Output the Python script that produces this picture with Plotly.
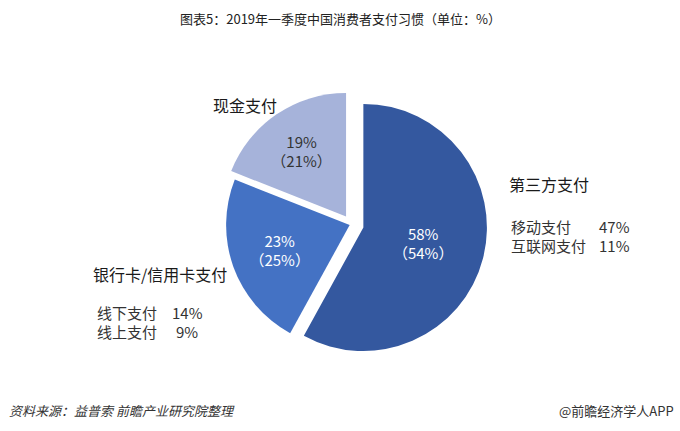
import plotly.graph_objects as go

# ---- data ----
categories = ["第三方支付", "银行卡/信用卡支付", "现金支付"]
values_2019q1 = [58, 23, 19]
values_prev = [54, 25, 21]
slice_colors = ["#34589F", "#4472C4", "#A6B3DA"]
text_colors = ["#FFFFFF", "#FFFFFF", "#333333"]
pulls = [0.10, 0.015, 0.077]

sub_labels = {
    "第三方支付": [("移动支付", "47%"), ("互联网支付", "11%")],
    "银行卡/信用卡支付": [("线下支付", "14%"), ("线上支付", "9%")],
}

W, H = 680, 431
FONT = "Noto Sans CJK SC, Microsoft YaHei, sans-serif"

def px(x):
    return x / W

def py(y):
    return 1 - y / H

inner_text = [f"{v}%<br>（{p}%）" for v, p in zip(values_2019q1, values_prev)]

fig = go.Figure(
    go.Pie(
        labels=categories,
        values=values_2019q1,
        text=inner_text,
        textinfo="text",
        textposition="inside",
        insidetextorientation="horizontal",
        textfont=dict(size=15, color=text_colors, family=FONT),
        marker=dict(colors=slice_colors, line=dict(width=0)),
        sort=False,
        direction="clockwise",
        rotation=0,
        pull=pulls,
        hoverinfo="label+percent",
        domain=dict(x=[px(215.5), px(487.3)], y=[py(360.3), py(88.5)]),
        showlegend=False,
    )
)

ann = []
# title
ann.append(dict(text="图表5：2019年一季度中国消费者支付习惯（单位：%）", x=0.5, y=py(18),
                xref="paper", yref="paper", xanchor="center", yanchor="middle",
                showarrow=False, font=dict(size=13, color="#222222", family=FONT)))
# headers
headers = {"现金支付": (211, 105), "第三方支付": (507, 184), "银行卡/信用卡支付": (91, 274)}
for name, (x, y) in headers.items():
    ann.append(dict(text=name, x=px(x), y=py(y), xref="paper", yref="paper",
                    xanchor="left", yanchor="middle", showarrow=False,
                    font=dict(size=16, color="#1a1a1a", family=FONT)))
# sub labels
sub_pos = {
    "第三方支付": [(509, 226, 632), (509, 245, 632)],
    "银行卡/信用卡支付": [(95, 312, 205), (95, 331, 200)],
}
for cat, items in sub_labels.items():
    for (lab, val), (x, y, xr) in zip(items, sub_pos[cat]):
        ann.append(dict(text=lab, x=px(x), y=py(y), xref="paper", yref="paper",
                        xanchor="left", yanchor="middle", showarrow=False,
                        font=dict(size=15, color="#333333", family=FONT)))
        ann.append(dict(text=val, x=px(xr), y=py(y), xref="paper", yref="paper",
                        xanchor="right", yanchor="middle", showarrow=False,
                        font=dict(size=15, color="#333333", family=FONT)))
# footer
ann.append(dict(text="<i>资料来源：益普索 前瞻产业研究院整理</i>", x=px(7), y=py(410),
                xref="paper", yref="paper", xanchor="left", yanchor="middle",
                showarrow=False, font=dict(size=13, color="#333333", family=FONT)))
ann.append(dict(text="@前瞻经济学人APP", x=px(676), y=py(410),
                xref="paper", yref="paper", xanchor="right", yanchor="middle",
                showarrow=False, font=dict(size=13, color="#333333", family=FONT)))

fig.update_layout(
    width=W, height=H,
    margin=dict(l=0, r=0, t=0, b=0),
    paper_bgcolor="white", plot_bgcolor="white",
    annotations=ann,
    font=dict(family=FONT),
)

fig.write_html("out.html", config={"displayModeBar": False},
               post_script="document.body.style.margin='0';document.body.style.overflow='hidden';")
